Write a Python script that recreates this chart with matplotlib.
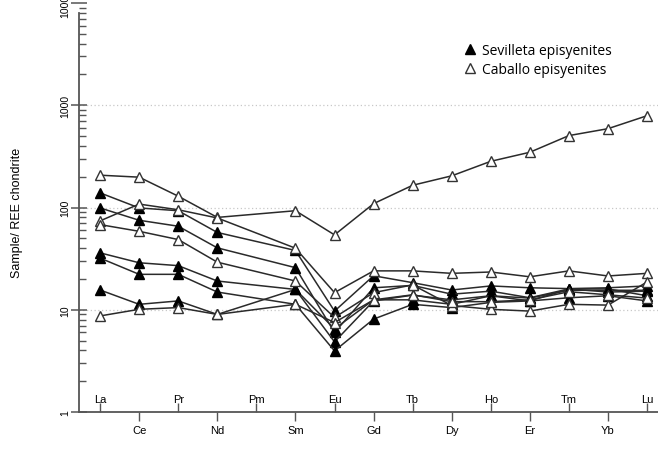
import matplotlib
matplotlib.use('Agg')
import matplotlib.pyplot as plt
from matplotlib.lines import Line2D
from matplotlib.ticker import LogLocator, NullFormatter, FixedLocator, FixedFormatter

# REE order on the x axis (Pm is not measured, lines jump over it)
elements = ['La', 'Ce', 'Pr', 'Nd', 'Pm', 'Sm', 'Eu', 'Gd', 'Tb', 'Dy', 'Ho', 'Er', 'Tm', 'Yb', 'Lu']
measured = ['La', 'Ce', 'Pr', 'Nd', 'Sm', 'Eu', 'Gd', 'Tb', 'Dy', 'Ho', 'Er', 'Tm', 'Yb', 'Lu']

# sample / chondrite values
sevilleta = [
    [139, 99, 93, 57, 38, 9.7, 21.5, 18.4, 15.6, 17.1, 16.4, 16.1, 16.4, 17.1],
    [99, 75, 65.6, 40.3, 25.8, 6.0, 16.4, 17.3, 14.2, 15.2, 13.1, 16.0, 14.9, 15.2],
    [36, 28.8, 27, 19.1, 15.8, 4.85, 12.2, 13.9, 12.5, 13.7, 12.2, 16.0, 16.0, 13.7],
    [32, 22.2, 22.2, 14.9, 11.3, 3.96, 8.1, 11.3, 10.5, 11.8, 12.2, 13.1, 13.7, 12.2],
    [15.6, 11.3, 12.2, 9.0, 15.8, 6.5, 12.5, 12.5, 11.3, 13.7, 13.0, 15.5, 15.5, 15.5],
]
caballo = [
    [207, 198, 129, 80, 93, 54, 109, 165, 204, 283, 347, 505, 590, 790],
    [74, 108, 95, 79, 40, 14.7, 24, 24, 22.7, 23.4, 21.0, 24, 21.4, 22.7],
    [68, 58.5, 48.6, 29.2, 19.1, 8.4, 14.7, 17.5, 11.0, 10.1, 9.7, 11.3, 11.1, 18.7],
    [8.7, 10.1, 10.5, 9.0, 11.3, 7.5, 12.5, 14.0, 12.0, 12.0, 12.5, 15.0, 14.0, 13.0],
]

line_col = '#2a2a2a'
xs = [elements.index(e) for e in measured]

fig = plt.figure(figsize=(6.58, 4.56), dpi=100)
ax = fig.add_axes([79 / 658, 43 / 456, 579 / 658, 409 / 456])

for vals in sevilleta:
    ax.plot(xs, vals, color=line_col, lw=1.1, marker='^', ms=6.8,
            mfc='black', mec='black', zorder=3)
for vals in caballo:
    ax.plot(xs, vals, color=line_col, lw=1.1, marker='^', ms=6.8,
            mfc='white', mec='#333333', mew=1.0, zorder=3)

ax.set_yscale('log')
ax.set_xlim(-0.54, 14.28)

# dotted guide lines
for g in [10, 100, 1000]:
    ax.axhline(g, color='#c8c8c8', lw=0.9, ls=(0, (1, 2)), zorder=1)

for s in ['top', 'right']:
    ax.spines[s].set_visible(False)
ax.spines['left'].set_bounds(1, 8000)
for s in ['left', 'bottom']:
    ax.spines[s].set_color('#555555')
    ax.spines[s].set_linewidth(1.3)

# y axis
ax.yaxis.set_minor_locator(LogLocator(base=10, subs=range(2, 10), numticks=20))
ax.yaxis.set_minor_formatter(NullFormatter())
ax.set_yticks([1, 10, 100, 1000, 10000])
ax.set_yticklabels(['1', '10', '100', '1000', '10000'], rotation=90, va='center',
                   fontsize=7.5, family=['Liberation Sans Narrow', 'Liberation Sans', 'DejaVu Sans'])
ax.tick_params(axis='y', which='major', direction='inout', length=11, width=1.1,
               color='#555555', pad=1)
ax.tick_params(axis='y', which='minor', direction='in', length=5, width=1.0, color='#555555')
ax.set_ylim(1, 10000)

# x axis: odd elements below the axis, even elements above it
lower = [i for i in range(len(elements)) if i % 2 == 1]
upper = [i for i in range(len(elements)) if i % 2 == 0]
ax.xaxis.set_major_locator(FixedLocator(lower))
ax.xaxis.set_major_formatter(FixedFormatter([elements[i] for i in lower]))
ax.xaxis.set_minor_locator(FixedLocator(upper))
ax.xaxis.set_minor_formatter(NullFormatter())
ax.tick_params(axis='x', which='major', direction='out', length=6.5, width=1.0,
               color='#555555', pad=3, labelsize=8)
ax.tick_params(axis='x', which='minor', direction='in', length=6.5, width=1.0,
               color='#555555')
for lab in ax.get_xticklabels():
    lab.set_family(['Liberation Sans Narrow', 'Liberation Sans', 'DejaVu Sans'])
for i in upper:
    ax.text(i, 0.032, elements[i], transform=ax.get_xaxis_transform(),
            ha='center', va='center', fontsize=8,
            family=['Liberation Sans Narrow', 'Liberation Sans', 'DejaVu Sans'])

ax.set_ylabel('Sample/ REE chondrite', fontsize=9, family='Liberation Sans')
ax.yaxis.set_label_coords(-0.096, 0.49)

handles = [
    Line2D([], [], ls='none', marker='^', ms=7, mfc='black', mec='black'),
    Line2D([], [], ls='none', marker='^', ms=7, mfc='white', mec='#333333'),
]
fig.legend(handles, ['Sevilleta episyenites', 'Caballo episyenites'],
           loc='upper left', bbox_to_anchor=(456 / 658, 1 - 37 / 456),
           frameon=False, borderpad=0, handlelength=1.0, handletextpad=0.4,
           labelspacing=0.3, prop={'family': 'Open Sans', 'size': 10})

fig.savefig('out.png', dpi=100)
